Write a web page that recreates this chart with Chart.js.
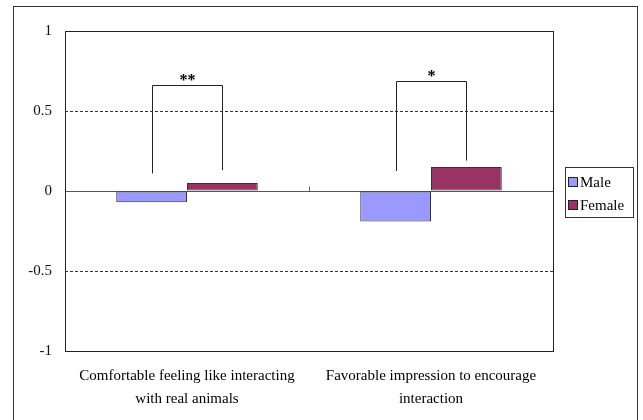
<!DOCTYPE html>
<html>
<head>
<meta charset="utf-8">
<script src="https://cdn.jsdelivr.net/npm/chart.js@4/dist/chart.umd.min.js"></script>
<style>
  html, body { margin: 0; padding: 0; background: #fff; }
  #wrap { width: 643px; height: 420px; position: relative; }
</style>
</head>
<body>
<div id="wrap"><canvas id="c" width="643" height="420"></canvas></div>
<script>
// Mean ratings by gender
const categories = [
  ["Comfortable feeling like interacting", "with real animals"],
  ["Favorable impression to encourage", "interaction"]
];
const seriesNames = ["Male", "Female"];
const maleValues = [-0.07, -0.19];
const femaleValues = [0.05, 0.15];
const yTicks = [-1, -0.5, 0, 0.5, 1];

// Significance brackets: marker, top of bracket, foot heights over each bar
const sigMarks = ["**", "*"];
const bracketTop = [0.66, 0.69];
const bracketFootMale = [0.11, 0.125];
const bracketFootFemale = [0.13, 0.19];

const SERIF = "'Liberation Serif', 'Times New Roman', serif";

const decorations = {
  id: 'decorations',
  beforeDatasetsDraw(chart) {
    const { ctx, chartArea: a, scales: { x, y } } = chart;
    ctx.save();
    // zero line
    const y0 = Math.round(y.getPixelForValue(0)) + 0.5;
    ctx.strokeStyle = '#555';
    ctx.lineWidth = 1;
    ctx.beginPath();
    ctx.moveTo(a.left, y0);
    ctx.lineTo(a.right, y0);
    ctx.stroke();
    // category divider tick on the zero line
    const xm = Math.round(x.getPixelForValue(0.5)) + 0.5;
    ctx.strokeStyle = '#666';
    ctx.beginPath();
    ctx.moveTo(xm, y0 - 5);
    ctx.lineTo(xm, y0);
    ctx.stroke();
    ctx.restore();
  },
  afterDatasetsDraw(chart) {
    const { ctx, chartArea: a, scales: { y } } = chart;
    ctx.save();
    // plot area frame
    ctx.strokeStyle = '#222';
    ctx.lineWidth = 1;
    ctx.strokeRect(Math.round(a.left) + 0.5, Math.round(a.top) + 0.5,
      Math.round(a.right - a.left), Math.round(a.bottom - a.top));

    // significance brackets
    const mMeta = chart.getDatasetMeta(0);
    const fMeta = chart.getDatasetMeta(1);
    ctx.strokeStyle = '#222';
    ctx.fillStyle = '#000';
    for (let i = 0; i < sigMarks.length; i++) {
      const xl = Math.round(mMeta.data[i].x) + 0.5;
      const xr = Math.round(fMeta.data[i].x) + 0.5;
      const yt = Math.round(y.getPixelForValue(bracketTop[i])) + 0.5;
      const yl = y.getPixelForValue(bracketFootMale[i]);
      const yr = y.getPixelForValue(bracketFootFemale[i]);
      ctx.beginPath();
      ctx.moveTo(xl, yl);
      ctx.lineTo(xl, yt);
      ctx.lineTo(xr, yt);
      ctx.lineTo(xr, yr);
      ctx.stroke();
      ctx.font = 'bold 16px ' + SERIF;
      ctx.textAlign = 'center';
      ctx.textBaseline = 'middle';
      ctx.fillText(sigMarks[i], (xl + xr) / 2, yt - 5);
    }

    // legend
    const colors = chart.data.datasets.map(d => d.backgroundColor);
    const lx = 565, ly = 167, lw = 68, lh = 50;
    ctx.strokeStyle = '#333';
    ctx.strokeRect(lx + 0.5, ly + 0.5, lw, lh);
    ctx.font = '15px ' + SERIF;
    ctx.textAlign = 'left';
    ctx.textBaseline = 'middle';
    seriesNames.forEach((name, k) => {
      const cy = ly + 15 + k * 23;
      ctx.fillStyle = colors[k];
      ctx.fillRect(lx + 3, cy - 5, 10, 10);
      ctx.strokeStyle = '#222';
      ctx.strokeRect(lx + 3.5, cy - 4.5, 9, 9);
      ctx.fillStyle = '#000';
      ctx.fillText(name, lx + 15, cy + 1);
    });

    // outer chart frame
    ctx.strokeStyle = '#333';
    ctx.lineWidth = 1;
    ctx.strokeRect(13.5, 6.5, 624, 420);
    ctx.restore();
  }
};

new Chart(document.getElementById('c'), {
  type: 'bar',
  data: {
    labels: categories,
    datasets: [
      { label: seriesNames[0], data: maleValues, backgroundColor: '#9999FF',
        borderColor: '#333', borderWidth: 1, borderSkipped: false },
      { label: seriesNames[1], data: femaleValues, backgroundColor: '#993366',
        borderColor: '#333', borderWidth: 1, borderSkipped: false }
    ]
  },
  options: {
    responsive: false,
    animation: false,
    events: [],
    layout: { padding: { left: 0, top: 31, right: 90, bottom: 0 } },
    plugins: { legend: { display: false }, tooltip: { enabled: false } },
    datasets: { bar: { categoryPercentage: 0.58, barPercentage: 1.0 } },
    scales: {
      x: {
        grid: { display: false, drawTicks: false },
        border: { display: false },
        ticks: {
          color: '#000', padding: 14, maxRotation: 0, autoSkip: false,
          font: { family: SERIF, size: 15, lineHeight: 1.5 }
        },
        afterFit(s) { s.height = 69; }
      },
      y: {
        min: -1, max: 1,
        afterBuildTicks(s) { s.ticks = yTicks.map(v => ({ value: v })); },
        grid: {
          drawTicks: false,
          color: c => (c.tick && Math.abs(c.tick.value) === 0.5) ? '#333' : 'rgba(0,0,0,0)',
          lineWidth: 1
        },
        border: { display: false, dash: [3, 2] },
        ticks: {
          color: '#111', padding: 13,
          font: { family: SERIF, size: 15 },
          callback: v => String(v)
        },
        afterFit(s) { s.width = 65; }
      }
    }
  },
  plugins: [decorations]
});
</script>
</body>
</html>
